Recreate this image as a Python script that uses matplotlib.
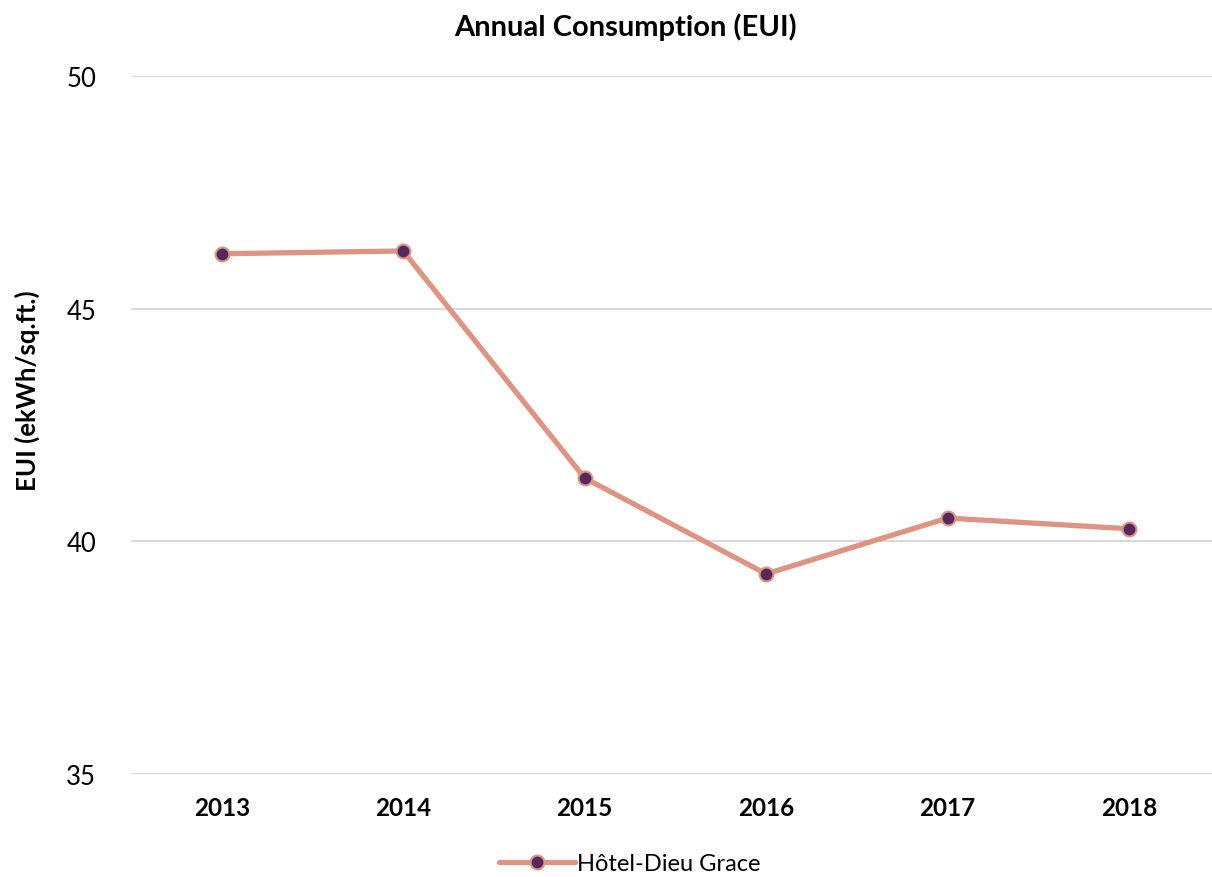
import matplotlib
matplotlib.use("Agg")
import matplotlib.pyplot as plt

years = ["2013", "2014", "2015", "2016", "2017", "2018"]
eui = [46.18, 46.24, 41.36, 39.30, 40.50, 40.27]
series_name = "Hôtel-Dieu Grace"
yticks = [35, 40, 45, 50]

plt.rcParams['font.family'] = ['Lato', 'DejaVu Sans']

fig = plt.figure(figsize=(12.12, 8.78), dpi=100)
ax = fig.add_axes([131/1212, 1-775/878, 1-131/1212, (775-77)/878])

x = list(range(len(years)))
ax.plot(x, eui, color='#DE9482', linewidth=3.8, marker='o', markersize=10,
        markerfacecolor='#56295E', markeredgecolor='#DE9482', markeredgewidth=1.5,
        label=series_name, solid_capstyle='round', zorder=3)

ax.set_ylim(35, 50)
ax.set_yticks(yticks)
ax.set_xlim(-0.5, 5.457)
ax.set_xticks(x)
ax.set_xticklabels(years, fontsize=17.5, fontweight='bold')
ax.tick_params(axis='y', labelsize=18.5, length=0, pad=25)
ax.tick_params(axis='x', length=0, pad=16)
ax.grid(axis='y', color='#D9D9D9', linewidth=1.5)
for s in ax.spines.values():
    s.set_visible(False)
ax.set_axisbelow(True)

ax.set_ylabel("EUI (ekWh/sq.ft.)", fontsize=18.5, fontweight='bold')
ax.yaxis.set_label_coords(-(131 - 40) / 1081, (775 - 391) / 698)
fig.text(625/1212, 1-27/878, "Annual Consumption (EUI)", ha='center', va='center',
         fontsize=21, fontweight='bold')

leg = fig.legend(loc='center', bbox_to_anchor=(630/1212, 1-865/878), frameon=False,
                 fontsize=17, handlelength=3.2, handletextpad=0.1)

fig.savefig("out.png", dpi=100)
